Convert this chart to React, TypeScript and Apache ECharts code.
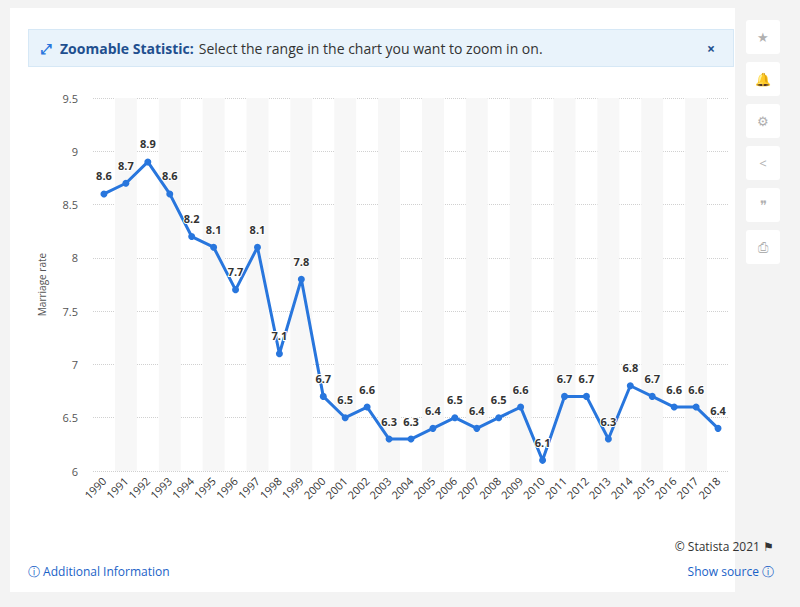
import React, { useEffect, useRef } from "react";
import * as echarts from "echarts";

const years = [
  "1990", "1991", "1992", "1993", "1994", "1995", "1996", "1997", "1998", "1999",
  "2000", "2001", "2002", "2003", "2004", "2005", "2006", "2007", "2008", "2009",
  "2010", "2011", "2012", "2013", "2014", "2015", "2016", "2017", "2018",
];
const marriageRate = [
  8.6, 8.7, 8.9, 8.6, 8.2, 8.1, 7.7, 8.1, 7.1, 7.8,
  6.7, 6.5, 6.6, 6.3, 6.3, 6.4, 6.5, 6.4, 6.5, 6.6,
  6.1, 6.7, 6.7, 6.3, 6.8, 6.7, 6.6, 6.6, 6.4,
];

const font = "'Open Sans', 'Noto Sans', sans-serif";

const App: React.FC = () => {
  const chartRef = useRef<HTMLDivElement | null>(null);

  useEffect(() => {
    if (!chartRef.current) return;
    const chart = echarts.init(chartRef.current, undefined, { renderer: "svg" });
    chart.setOption({
      animation: false,
      textStyle: { fontFamily: font },
      grid: { left: 83, right: 6, top: 88, bottom: 119 },
      xAxis: {
        type: "category",
        data: years,
        axisLine: { show: false },
        axisTick: { show: false },
        axisLabel: { rotate: 45, color: "#333", fontSize: 11, interval: 0, margin: 8 },
        splitArea: { show: true, areaStyle: { color: ["rgba(255,255,255,0)", "#f7f7f7"] } },
      },
      yAxis: {
        type: "value",
        min: 6,
        max: 9.5,
        interval: 0.5,
        name: "Marriage rate",
        nameLocation: "middle",
        nameGap: 46,
        nameTextStyle: { color: "#555", fontSize: 10 },
        axisLabel: { color: "#555", fontSize: 11, margin: 15 },
        splitLine: { lineStyle: { color: "#d0d0d0", type: "dotted" } },
      },
      series: [
        {
          type: "line",
          data: marriageRate,
          symbol: "circle",
          symbolSize: 7,
          lineStyle: { color: "#2876dd", width: 3 },
          itemStyle: { color: "#2876dd" },
          label: {
            show: true,
            position: "top",
            distance: 9,
            color: "#333",
            fontWeight: "bold",
            fontSize: 11,
            textBorderColor: "#fff",
            textBorderWidth: 2,
          },
        },
      ],
    });
    return () => chart.dispose();
  }, []);

  const btn = (i: number, ch: string) => (
    <div
      key={i}
      style={{
        position: "absolute", left: 746, top: 20 + i * 42, width: 34, height: 34,
        background: "#fff", borderRadius: 3, color: "#b0b0b0", fontSize: 13,
        display: "flex", alignItems: "center", justifyContent: "center",
      }}
    >
      {ch}
    </div>
  );

  return (
    <div style={{ position: "fixed", left: 0, top: 0, width: 800, height: 607, background: "#f3f3f3", fontFamily: font }}>
      <div style={{ position: "absolute", left: 10, top: 8, width: 725, height: 584, background: "#fff" }} />
      <div
        style={{
          position: "absolute", left: 28, top: 29, width: 706, height: 38, background: "#e9f3fb",
          border: "1px solid #d6e8f6", boxSizing: "border-box", display: "flex", alignItems: "center",
          fontSize: 14, color: "#333",
        }}
      >
        <span style={{ color: "#2876dd", marginLeft: 12, marginRight: 8, fontWeight: "bold" }}>⤢</span>
        <b style={{ color: "#1f4f8f" }}>Zoomable Statistic:</b>
        <span style={{ marginLeft: 5 }}>Select the range in the chart you want to zoom in on.</span>
        <span style={{ position: "absolute", right: 18, color: "#1f4f8f", fontWeight: "bold" }}>×</span>
      </div>
      {["★", "🔔", "⚙", "<", "❞", "⎙"].map((c, i) => btn(i, c))}
      <div ref={chartRef} style={{ position: "absolute", left: 10, top: 10, width: 725, height: 580 }} />
      <div style={{ position: "absolute", right: 26, top: 538, fontSize: 12, color: "#333" }}>© Statista 2021 ⚑</div>
      <div style={{ position: "absolute", left: 28, top: 563, fontSize: 12, color: "#1a62c7" }}>ⓘ Additional Information</div>
      <div style={{ position: "absolute", right: 26, top: 563, fontSize: 12, color: "#1a62c7" }}>Show source ⓘ</div>
    </div>
  );
};

export default App;
